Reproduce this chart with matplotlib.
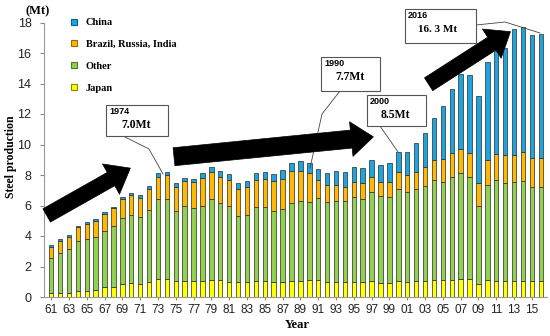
"""World crude steel production by region, 1961-2016 (stacked bars)."""

import matplotlib

matplotlib.use("Agg")

import matplotlib.pyplot as plt
import numpy as np
from matplotlib.lines import Line2D
from matplotlib.patches import ArrowStyle, FancyArrowPatch, Rectangle

W, H = 550, 336

YEARS = list(range(1961, 2017))

JAPAN = [0.26, 0.28, 0.29, 0.40, 0.41, 0.48, 0.63, 0.67, 0.82, 0.92,
         0.88, 0.96, 1.17, 1.16, 1.03, 1.07, 1.02, 1.03, 1.11, 1.11,
         1.01, 0.96, 0.96, 1.05, 1.05, 0.98, 0.98, 1.05, 1.08, 1.10,
         1.09, 0.98, 0.99, 0.98, 1.01, 0.98, 1.02, 0.92, 0.92, 1.04,
         1.00, 1.05, 1.08, 1.10, 1.10, 1.13, 1.18, 1.15, 0.86, 1.09,
         1.06, 1.06, 1.07, 1.08, 1.03, 1.03]
OTHER = [2.32, 2.58, 2.84, 3.25, 3.37, 3.43, 3.72, 3.99, 4.36, 4.48,
         4.34, 4.74, 5.23, 5.29, 4.59, 4.90, 4.82, 4.92, 5.34, 5.03,
         4.96, 4.35, 4.40, 4.83, 4.83, 4.64, 4.77, 5.13, 5.19, 5.13,
         5.40, 5.25, 5.33, 5.34, 5.53, 5.47, 5.88, 5.70, 5.62, 6.02,
         5.87, 6.01, 6.20, 6.55, 6.46, 6.72, 6.97, 6.70, 5.11, 6.23,
         6.59, 6.44, 6.47, 6.52, 6.20, 6.20]
BRI = [0.71, 0.84, 0.83, 0.91, 1.02, 1.07, 1.12, 1.16, 1.23, 1.26,
       1.29, 1.36, 1.50, 1.53, 1.59, 1.63, 1.68, 1.85, 1.75, 1.71,
       1.70, 1.75, 1.83, 1.79, 1.84, 1.97, 1.97, 2.06, 2.01, 1.88,
       1.18, 1.14, 1.05, 0.92, 1.00, 1.00, 0.99, 0.90, 1.02, 1.16,
       1.13, 1.16, 1.27, 1.31, 1.47, 1.57, 1.58, 1.61, 1.49, 1.66,
       1.73, 1.81, 1.77, 1.93, 1.91, 1.91]
CHINA = [0.10, 0.08, 0.09, 0.10, 0.12, 0.15, 0.10, 0.10, 0.13, 0.18,
         0.20, 0.22, 0.25, 0.22, 0.24, 0.20, 0.24, 0.31, 0.35, 0.39,
         0.40, 0.39, 0.40, 0.44, 0.48, 0.48, 0.61, 0.57, 0.62, 0.66,
         0.70, 0.74, 0.87, 0.96, 0.96, 1.01, 1.09, 1.16, 1.25, 1.29,
         1.51, 1.86, 2.23, 2.76, 3.51, 4.20, 4.87, 5.08, 5.74, 6.41,
         6.75, 7.00, 8.24, 8.19, 8.06, 8.08]

SERIES = [
    ("Japan", JAPAN, "#FFFF00", "#8a8a00"),
    ("Other", OTHER, "#92D050", "#4f7a25"),
    ("Brazil, Russia, India", BRI, "#FFB800", "#9a6b00"),
    ("China", CHINA, "#1EA5DE", "#0b5f85"),
]

# (year label, value label, box in px, leader path in px)
CALLOUTS = [
    ("1974", "7.0Mt", (106, 105, 62, 31), [(123, 136), (149, 149), (163, 174)]),
    ("1990", "7.7Mt", (321, 57, 59, 34), [(340, 91), (322, 114), (310, 168)]),
    ("2000", "8.5Mt", (367, 95, 59, 31), [(380, 126), (398, 152)]),
    ("2016", "16. 3 Mt", (405, 9, 71, 34), [(476, 25), (505, 22), (540, 33)]),
]

# arrow tail / tip in data coords, shaft width in points
ARROWS = [
    ((1960.5, 5.35), (1969.9, 8.45), 11),
    ((1974.8, 9.2), (1997.2, 10.5), 13),
    ((2003.4, 13.95), (2012.6, 17.4), 11),
]

SERIF = "Liberation Serif"
SANS = "Liberation Sans"


def fpx(x, y):
    return x / W, 1 - y / H


fig = plt.figure(figsize=(W / 100, H / 100), dpi=100)
ax = fig.add_axes([44 / W, 39 / H, 503 / W, 274.5 / H])

bottom = np.zeros(len(YEARS))
for name, vals, color, _ in SERIES:
    ax.bar(YEARS, vals, width=0.5, bottom=bottom, color=color,
           edgecolor="#2a2a2a", linewidth=0.5, zorder=2)
    bottom += np.array(vals)

ax.set_xlim(1960.2, 2016.7)
ax.set_ylim(0, 18)
ax.set_yticks(range(0, 19, 2))
ax.set_xticks(YEARS[::2])
ax.set_xticklabels([f"{y % 100:02d}" for y in YEARS[::2]])
ax.tick_params(axis="y", labelsize=9, length=3, pad=6, color="#888888",
               labelcolor="#222222")
ax.tick_params(axis="x", labelsize=8.5, length=2, pad=3, color="#888888",
               labelcolor="#222222")
for lab in ax.get_xticklabels() + ax.get_yticklabels():
    lab.set_family(SANS)
for side in ("top", "right"):
    ax.spines[side].set_visible(False)
for side in ("left", "bottom"):
    ax.spines[side].set_color("#999999")
    ax.spines[side].set_linewidth(0.8)

handles = [Line2D([], [], ls="", marker="s", markersize=4.5,
                  markerfacecolor=c, markeredgecolor=e, markeredgewidth=0.8,
                  label=n) for n, _, c, e in reversed(SERIES)]
ax.legend(handles=handles, loc="upper left", bbox_to_anchor=fpx(71, 18),
          bbox_transform=fig.transFigure, frameon=False, borderpad=0,
          borderaxespad=0, handlelength=0.6, handletextpad=0.8,
          labelspacing=1.2, prop={"family": SERIF, "weight": "bold",
                                  "size": 7.5})

# callout boxes
for year, value, (bx, by, bw, bh), path in CALLOUTS:
    xs, ys = zip(*[fpx(px, py) for px, py in path])
    ax.add_line(Line2D(xs, ys, transform=fig.transFigure, color="#444444",
                       linewidth=0.6, clip_on=False, zorder=3))
    x0, y0 = fpx(bx, by + bh)
    ax.add_patch(Rectangle((x0, y0), bw / W, bh / H, transform=fig.transFigure,
                           facecolor="white", edgecolor="#555555",
                           linewidth=0.8, clip_on=False, zorder=4))
    ax.text(*fpx(bx + 3, by + 7), year, transform=fig.transFigure,
            family=SANS, weight="bold", size=6.5, ha="left", va="center",
            zorder=5)
    if year == "2016":
        ax.text(*fpx(bx + 13, by + 21), value, transform=fig.transFigure,
                family=SERIF, weight="bold", size=8, ha="left", va="center",
                zorder=5)
    else:
        ax.text(*fpx(bx + bw / 2 - 1, by + 20), value,
                transform=fig.transFigure, family=SERIF, weight="bold",
                size=8.5, ha="center", va="center", zorder=5)

# big trend arrows
for tail, tip, shaft in ARROWS:
    ax.add_patch(FancyArrowPatch(
        tail, tip, arrowstyle=ArrowStyle.Simple(head_length=16, head_width=25,
                                                tail_width=shaft),
        mutation_scale=1, shrinkA=0, shrinkB=0, facecolor="black",
        edgecolor="black", linewidth=0.5, clip_on=False, zorder=6))

fig.text(*fpx(11, 157), "Steel production", rotation=90, family=SERIF,
         weight="bold", size=8.5, ha="center", va="center")
fig.text(*fpx(38, 11), "(Mt)", family=SERIF, weight="bold", size=9,
         ha="center", va="center")
fig.text(*fpx(297, 325), "Year", family=SERIF, weight="bold", size=9,
         ha="center", va="center")

fig.savefig("out.png", dpi=100, facecolor="white")
